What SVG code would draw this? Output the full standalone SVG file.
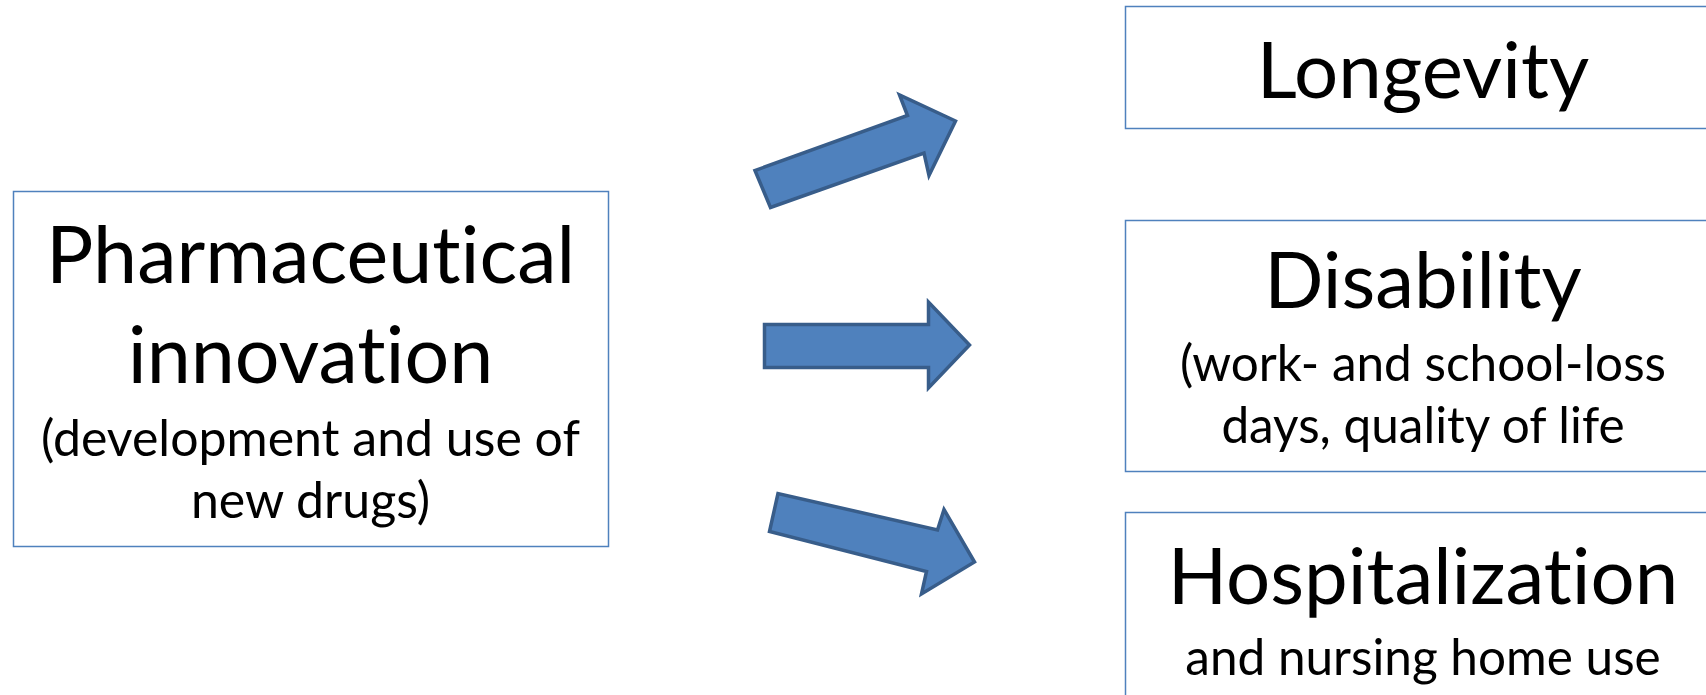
<svg xmlns="http://www.w3.org/2000/svg" width="1706" height="695" viewBox="0 0 1706 695">
<style>
.box{fill:#fff;stroke:#4F81BD;stroke-width:1.5}
.arr{fill:#4F81BD;stroke:#385D8A;stroke-width:3.5;stroke-linejoin:miter}
text{font-family:Lato,"Open Sans","Liberation Sans",sans-serif;fill:#000;text-anchor:middle;font-variant-ligatures:none}
.big{font-size:79px}
.sub{font-size:50px}
.rbig{font-size:78px}
.rsub{font-size:49.5px}
</style>
<rect width="1706" height="695" fill="#fff"/>
<g id="pharma">
<rect class="box" x="13.5" y="191.5" width="595" height="355"/>
<text class="big" x="310.5" y="283">Pharmaceutical</text>
<text class="big" x="310.5" y="383">innovation</text>
<text class="sub" x="310.5" y="456">(development and use of</text>
<text class="sub" x="310.5" y="518">new drugs)</text>
</g>
<g id="longevity">
<rect class="box" x="1125.5" y="6.5" width="600" height="122"/>
<text class="rbig" x="1423" y="98">Longevity</text>
</g>
<g id="disability">
<rect class="box" x="1125.5" y="220.5" width="600" height="251"/>
<text class="rbig" x="1423" y="308">Disability</text>
<text class="rsub" x="1423" y="381">(work- and school-loss</text>
<text class="rsub" x="1423" y="443">days, quality of life</text>
</g>
<g id="hospitalization">
<rect class="box" x="1125.5" y="512.5" width="600" height="200"/>
<text class="rbig" x="1423" y="604">Hospitalization</text>
<text class="rsub" x="1423" y="675">and nursing home use</text>
</g>
<g id="connectors">
<polygon class="arr" points="755,170.5 770.5,207.5 924,153 929,175.5 955.5,121 899.5,95 907.5,115.5"/>
<polygon class="arr" points="764.5,324.5 764.5,367.5 928.5,367.5 928.5,388 969.5,345 928.5,302 928.5,324.5"/>
<polygon class="arr" points="778,493.5 769.5,531.5 926.5,571.5 921.5,594 974.5,562 944,509.5 937.5,530"/>
</g>
</svg>
